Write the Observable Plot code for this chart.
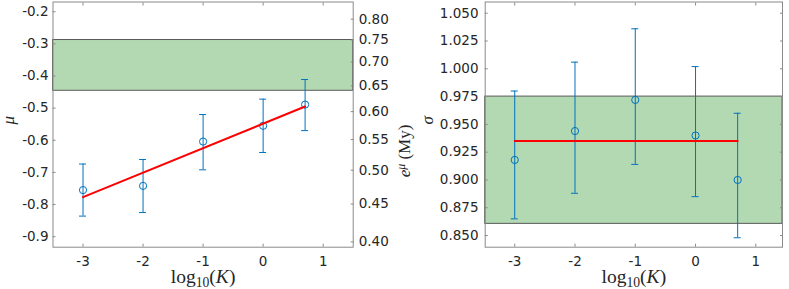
<!DOCTYPE html>
<html><head><meta charset="utf-8">
<script src="https://cdn.jsdelivr.net/npm/d3@7"></script>
<script src="https://cdn.jsdelivr.net/npm/@observablehq/plot@0.6"></script>
<style>
body{margin:0;background:#fff;}
#wrap{position:relative;width:789px;height:289px;overflow:hidden;background:#fff;}
#wrap svg{position:absolute;top:0;}
</style></head><body><div id="wrap"></div>
<script>
// ---- data ----
const logK = [-3, -2, -1, 0, 0.699];
const muMean = [-0.755, -0.742, -0.604, -0.555, -0.489];
const muLo = [-0.836, -0.825, -0.692, -0.638, -0.570];
const muHi = [-0.674, -0.660, -0.520, -0.472, -0.411];
const muFitX = [-3, 0.699];
const muFitY = [-0.777, -0.495];
const muBand = [-0.446, -0.288];
const sigmaMean = [0.918, 0.944, 0.972, 0.940, 0.900];
const sigmaLo = [0.865, 0.888, 0.914, 0.885, 0.848];
const sigmaHi = [0.980, 1.006, 1.036, 1.002, 0.960];
const sigmaFitX = [-3, 0.699];
const sigmaFitY = [0.935, 0.935];
const sigmaBand = [0.8605, 0.975];
const xTicks = [-3, -2, -1, 0, 1];
const muTicks = [-0.9, -0.8, -0.7, -0.6, -0.5, -0.4, -0.3, -0.2];
const expMuTicks = [0.40, 0.45, 0.50, 0.55, 0.60, 0.65, 0.70, 0.75, 0.80];
const sigmaTicks = [0.850, 0.875, 0.900, 0.925, 0.950, 0.975, 1.000, 1.025, 1.050];

const BLUE = "#0072BD", RED = "#ff0000", GREEN = "#b3d9b3";
const AX = "#8a8a8a", TXT = "#262626";
const SERIF = "'Liberation Serif', serif";

function rows(x, m, lo, hi) { return x.map((d, i) => ({x: d, m: m[i], lo: lo[i], hi: hi[i]})); }
function fitRows(x, y) { return x.map((d, i) => ({x: d, y: y[i]})); }

function errMarks(data) {
  return [
    Plot.ruleX(data, {x: "x", y1: "lo", y2: "hi", stroke: BLUE, strokeWidth: 1}),
    Plot.ruleY(data, {y: "hi", x1: "x", x2: "x", insetLeft: -3.5, insetRight: -3.5, stroke: BLUE, strokeWidth: 1}),
    Plot.ruleY(data, {y: "lo", x1: "x", x2: "x", insetLeft: -3.5, insetRight: -3.5, stroke: BLUE, strokeWidth: 1}),
    Plot.dot(data, {x: "x", y: "m", r: 3.6, stroke: BLUE, strokeWidth: 1, fill: "none"})
  ];
}

function common(width, ml, mr, xdom, ydom) {
  return {
    width, height: 289, marginLeft: ml, marginRight: mr, marginTop: 1.5, marginBottom: 42.3,
    x: {domain: xdom}, y: {domain: ydom},
    style: {fontFamily: "'DejaVu Sans', sans-serif", fontSize: "13.5px", background: "transparent", color: TXT, overflow: "visible"}
  };
}

function xAxes() {
  return [
    Plot.axisX({anchor: "bottom", ticks: xTicks, tickSize: -3, tickPadding: 12.6, tickFormat: d => String(d), stroke: AX, fill: TXT, label: null}),
    Plot.axisX({anchor: "top", ticks: xTicks, tickSize: -3, tickFormat: () => "", stroke: AX, label: null})
  ];
}

// ---- left panel ----
const left = Plot.plot({
  ...common(420, 52.5, 67.3, [-3.5, 1.5], [-0.9328, -0.1697]),
  marks: [
    Plot.rect([{y1: muBand[0], y2: muBand[1]}], {y1: "y1", y2: "y2", fill: GREEN, stroke: "#5a5a5a", strokeWidth: 1}),
    ...errMarks(rows(logK, muMean, muLo, muHi)),
    Plot.line(fitRows(muFitX, muFitY), {x: "x", y: "y", stroke: RED, strokeWidth: 2}),
    Plot.frame({stroke: AX}),
    ...xAxes(),
    Plot.axisY({anchor: "left", ticks: muTicks, tickSize: -3, tickPadding: 7.5, tickFormat: d => d.toFixed(1), stroke: AX, fill: TXT, label: null}),
    Plot.axisY({anchor: "right", ticks: expMuTicks.map(Math.log), tickSize: -3, tickPadding: 8.5, tickFormat: d => Math.exp(d).toFixed(2), stroke: AX, fill: TXT, label: null}),
    Plot.text(["μ"], {frameAnchor: "left", dx: -44, rotate: -90, fontFamily: SERIF, fontStyle: "italic", fontSize: 17, fill: TXT}),
    Plot.text(["eμ (My)"], {frameAnchor: "right", dx: 51.5, rotate: -90, fontFamily: SERIF, fontSize: 17, fill: TXT, className: "expLabel"}),
    Plot.text(["log10(K)"], {frameAnchor: "bottom", dy: 36, fontFamily: SERIF, fontSize: 19.5, fill: TXT, className: "xLabel"})
  ]
});

// ---- right panel ----
const right = Plot.plot({
  ...common(379, 74.7, 7, [-3.49, 1.443], [0.8395, 1.0601]),
  marks: [
    Plot.rect([{y1: sigmaBand[0], y2: sigmaBand[1]}], {y1: "y1", y2: "y2", fill: GREEN, stroke: "#5a5a5a", strokeWidth: 1}),
    ...errMarks(rows(logK, sigmaMean, sigmaLo, sigmaHi)),
    Plot.line(fitRows(sigmaFitX, sigmaFitY), {x: "x", y: "y", stroke: RED, strokeWidth: 2}),
    Plot.frame({stroke: AX}),
    ...xAxes(),
    Plot.axisY({anchor: "left", ticks: sigmaTicks, tickSize: -3, tickPadding: 9.7, tickFormat: d => d.toFixed(3), stroke: AX, fill: TXT, label: null}),
    Plot.axisY({anchor: "right", ticks: sigmaTicks, tickSize: -3, tickFormat: () => "", stroke: AX, label: null}),
    Plot.text(["σ"], {frameAnchor: "left", dx: -57.7, rotate: -90, fontFamily: SERIF, fontStyle: "italic", fontSize: 17, fill: TXT}),
    Plot.text(["log10(K)"], {frameAnchor: "bottom", dy: 36, fontFamily: SERIF, fontSize: 19.5, fill: TXT, className: "xLabel"})
  ]
});

const wrap = document.getElementById("wrap");
left.style.left = "0px";
right.style.left = "410px";
wrap.appendChild(left);
wrap.appendChild(right);

// rich text for math labels
d3.selectAll(".xLabel text").each(function () {
  const t = d3.select(this); t.text("");
  t.append("tspan").text("log");
  t.append("tspan").attr("font-size", "70%").attr("dy", "0.3em").text("10");
  t.append("tspan").attr("dy", "-0.21em").text("(");
  t.append("tspan").attr("font-style", "italic").text("K");
  t.append("tspan").text(")");
});
d3.selectAll(".expLabel text").each(function () {
  const t = d3.select(this); t.text("");
  t.append("tspan").attr("font-style", "italic").text("e");
  t.append("tspan").attr("font-style", "italic").attr("font-size", "70%").attr("dy", "-0.45em").text("μ");
  t.append("tspan").attr("dy", "0.315em").text(" (My)");
});
</script></body></html>
